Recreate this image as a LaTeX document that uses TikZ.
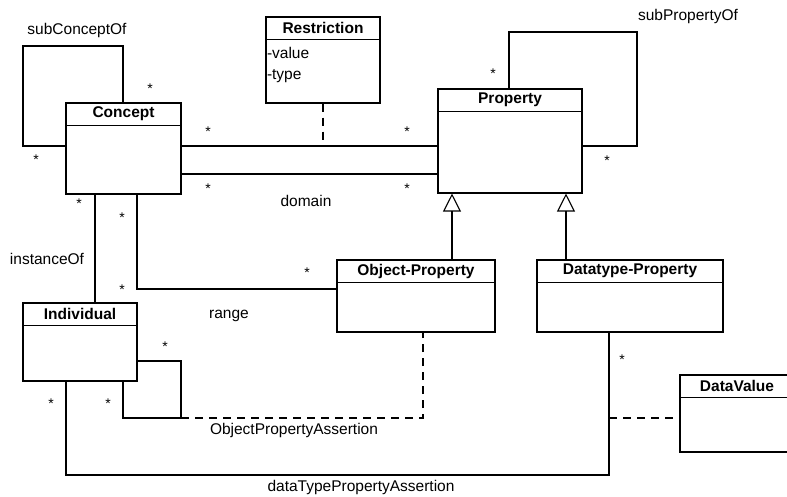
\documentclass[tikz,border=0pt]{standalone}
\usepackage{fontspec}
\setmainfont{Liberation Sans}
\usetikzlibrary{arrows.meta,calc}

\newcommand{\umlbox}[6]{%
  \node[umlclass, minimum width=#4, minimum height=#5] (#1) at (#2,#3) {};
  \node[umlhead] (#1H) at (#1.north) {#6};
  \draw (#1H.south -| #1.west) -- (#1H.south -| #1.east);
}

\begin{document}
\begin{tikzpicture}[x=1pt, y=-1pt, line width=1.1pt,
    font=\fontsize{15.5}{18}\selectfont,
    umlclass/.style={draw, fill=white, inner sep=0pt},
    umlhead/.style={below, minimum height=22pt, inner sep=0pt, font=\fontsize{15.5}{18}\selectfont\bfseries},
    mult/.style={inner sep=0pt, font=\fontsize{14}{16}\selectfont},
    dep/.style={dash pattern=on 8pt off 6pt},
    inherit/.style={-{Triangle[open, length=18pt, width=18pt]}}]
    \useasboundingbox (0,0) rectangle (787,497);
    \clip (0,0) rectangle (787,497);

    \umlbox{concept}{123.5}{148.5}{115pt}{91pt}{Concept}
    \umlbox{restriction}{323}{60}{114pt}{86pt}{Restriction}
    \umlbox{property}{510}{141}{144pt}{104pt}{Property}
    \umlbox{objprop}{416}{296}{158pt}{72pt}{Object-Property}
    \umlbox{dtprop}{630}{296}{186pt}{72pt}{Datatype-Property}
    \umlbox{individual}{80}{342}{114pt}{78pt}{Individual}
    \umlbox{datavalue}{737}{413.5}{114pt}{77pt}{DataValue}

    \node[anchor=west, inner sep=1pt] (rval) at (restriction.west |- 0,53) {-value};
    \node[anchor=west, inner sep=1pt] (rtype) at (restriction.west |- 0,76) {-type};

    \coordinate (scTL) at (23,46);
    \coordinate (spTR) at (637,32);
    \coordinate (ilBR) at (181,418);
    \coordinate (dtBL) at (66,475);
    \coordinate (dvJ) at (609,418);

    \draw (concept.north -| 123,0) |- (scTL) |- (concept.west |- 0,146);
    \draw (concept.east |- 0,146) -- (property.west |- 0,146);
    \draw (concept.east |- 0,174) -- (property.west |- 0,174);
    \draw[dep] (restriction.south) -- (restriction.south |- 0,146);
    \draw (property.north -| 509,0) |- (spTR) |- (property.east |- 0,146);
    \draw[inherit] (objprop.north -| 452,0) -- (property.south -| 452,0);
    \draw[inherit] (dtprop.north -| 566,0) -- (property.south -| 566,0);
    \draw (concept.south -| 95,0) -- (individual.north -| 95,0);
    \draw (concept.south -| 137,0) |- (objprop.west |- 0,289);
    \draw (individual.east |- 0,361) -| (ilBR) -| (individual.south -| 123,0);
    \draw[dep] (ilBR) -| (objprop.south -| 423,0);
    \draw (individual.south -| 66,0) -- (dtBL) -| (dtprop.south -| 609,0);
    \draw[dep] (dvJ) -- (datavalue.west |- dvJ);

    \node (lsubc) at (77,30) {subConceptOf};
    \node (lsubp) at (688,16) {subPropertyOf};
    \node (ldom) at (306,201) {domain};
    \node (lrange) at (229,316) {range};
    \node (linst) at (47,259) {instanceOf};
    \node (lopa) at (294,430) {ObjectPropertyAssertion};
    \node (ldtpa) at (361,487) {dataTypePropertyAssertion};

    \foreach \p [count=\i] in {{150,89},{36,160},{208,132},{208,189},{407,132},{407,189},
        {493,74},{607,161},{79,204},{122,218},{122,290},{307,273},
        {165,347},{108,404},{51,404},{622,360}}
        \node[mult] (m\i) at (\p) {*};
\end{tikzpicture}
\end{document}
